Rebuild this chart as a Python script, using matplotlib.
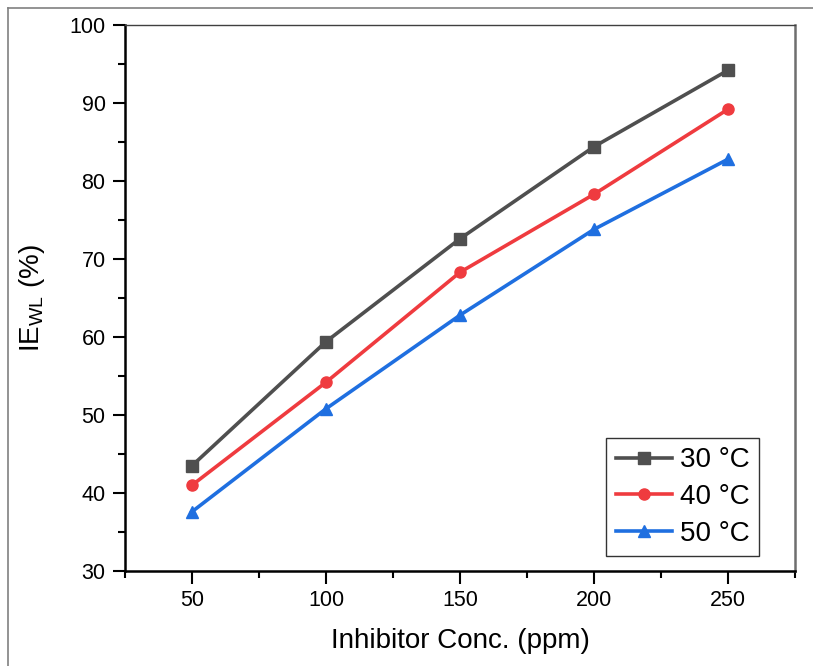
import matplotlib.pyplot as plt
from matplotlib.lines import Line2D

plt.rcParams['font.family'] = ['Liberation Sans', 'DejaVu Sans']

conc = [50, 100, 150, 200, 250]
ie_30 = [43.5, 59.4, 72.6, 84.4, 94.2]
ie_40 = [41.0, 54.2, 68.3, 78.3, 89.2]
ie_50 = [37.6, 50.8, 62.8, 73.8, 82.8]
labels = ['30 °C', '40 °C', '50 °C']

fig = plt.figure(figsize=(8.13, 6.66), dpi=100)
ax = fig.add_axes([125 / 813, 1 - 571 / 666, 670 / 813, 546 / 666])

# outer gray frame (top and left edges only visible)
fx, fy = 8 / 813, 1 - 8 / 666
fig.lines.append(Line2D([fx, 1], [fy, fy], transform=fig.transFigure,
                        color='#808080', lw=1.2))
fig.lines.append(Line2D([fx, fx], [0, fy], transform=fig.transFigure,
                        color='#808080', lw=1.2))

ax.plot(conc, ie_30, color='#4f4f4f', lw=2.6, marker='s', ms=8, label=labels[0])
ax.plot(conc, ie_40, color='#ef3b3f', lw=2.6, marker='o', ms=8, label=labels[1])
ax.plot(conc, ie_50, color='#1f6fe0', lw=2.6, marker='^', ms=9, label=labels[2])

ax.set_xlim(25, 275)
ax.set_ylim(30, 100)
ax.set_xticks([50, 100, 150, 200, 250])
ax.set_xticks([25, 75, 125, 175, 225, 275], minor=True)
ax.set_yticks(range(30, 101, 10))
ax.set_yticks(range(35, 100, 10), minor=True)

ax.tick_params(which='both', direction='out', top=False, right=False,
               width=1.5, labelsize=15.5, colors='black')
ax.tick_params(which='major', length=9, pad=5)
ax.tick_params(which='minor', length=5)
for side in ['left', 'bottom']:
    ax.spines[side].set_linewidth(1.8)
ax.spines['top'].set_linewidth(1.0)
ax.spines['top'].set_color('#404040')
ax.spines['right'].set_linewidth(1.8)
ax.spines['right'].set_color('#6e6e6e')

ax.set_xlabel('Inhibitor Conc. (ppm)', fontsize=20, labelpad=12)
ax.set_ylabel('IE$_{\\mathregular{WL}}$ (%)', fontsize=20, labelpad=16)

leg = ax.legend(loc='lower right', bbox_to_anchor=(0.947, 0.027), fontsize=20,
                frameon=True, fancybox=False, edgecolor='black',
                handlelength=2.0, handletextpad=0.3, borderpad=0.35,
                borderaxespad=0, labelspacing=0.38)
leg.get_frame().set_linewidth(1.0)

fig.savefig('out.png', dpi=100)
